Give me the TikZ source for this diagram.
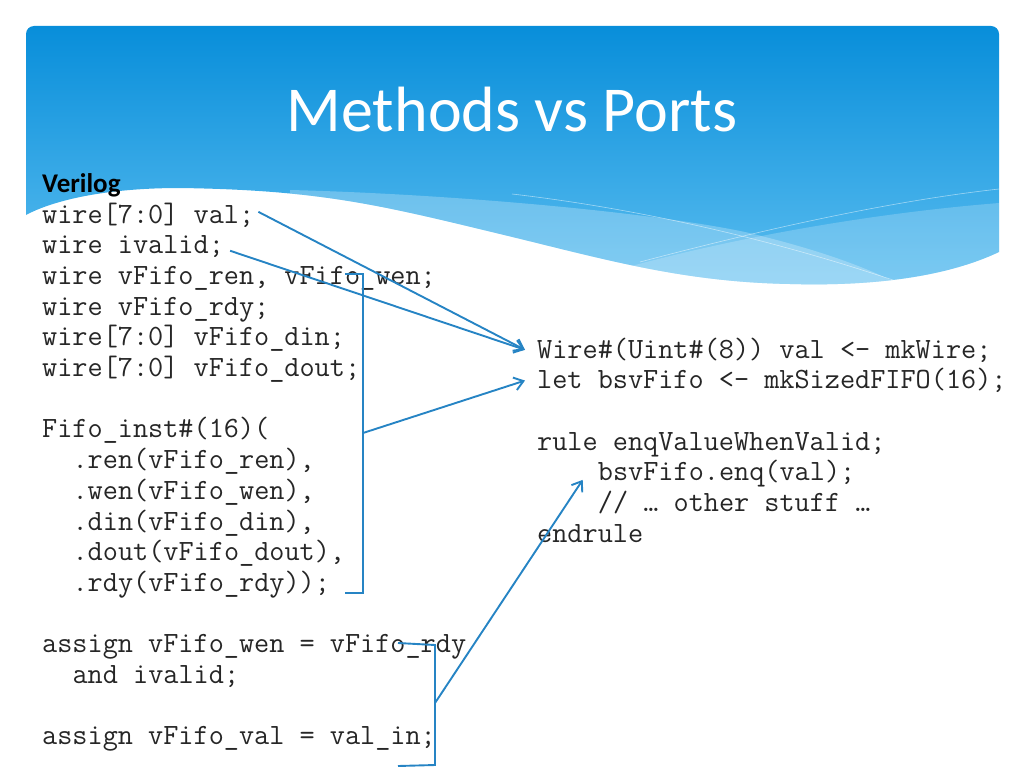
\documentclass[tikz,border=0pt]{standalone}
\usepackage{fontspec}
\setmainfont{Carlito}
\usetikzlibrary{positioning, arrows.meta}
\definecolor{headtop}{RGB}{8,142,218}
\definecolor{headbot}{RGB}{92,190,240}
\definecolor{linkblue}{RGB}{38,132,196}
\tikzset{
	>={Straight Barb[length=9pt,width=13pt]},
	code/.style={font=\fontsize{29.4}{30.7}\selectfont\ttfamily, text=black!85, anchor=base west, inner sep=0pt},
	link/.style={linkblue, line width=1.9pt},
	title/.style={font=\fontsize{64}{70}\selectfont, text=white, anchor=base},
	heading/.style={font=\fontsize{27}{30}\selectfont\bfseries, anchor=base west, inner sep=0pt}}

\begin{document}
\begin{tikzpicture}[x=1pt, y=1pt]
		\useasboundingbox (0,0) rectangle (1024,-768);
		
		% header band
		\begin{scope}
			\clip (26,-215) -- (26,-34) arc[start angle=180, end angle=90, radius=8] -- (991,-26)
			arc[start angle=90, end angle=0, radius=8] -- (999,-252)
			.. controls (940,-280) and (860,-286) .. (790,-284)
			.. controls (680,-282) and (600,-258) .. (500,-234)
			.. controls (380,-205) and (320,-190) .. (180,-188)
			.. controls (100,-188) and (50,-202) .. (26,-215) -- cycle;
			\shade[top color=headtop, bottom color=headbot] (26,-26) rectangle (999,-290);
			\fill[white, opacity=.25] (290,-190) .. controls (450,-194) and (650,-212) .. (745,-232)
			.. controls (820,-250) and (870,-268) .. (910,-290) -- (290,-300) -- cycle;
			\fill[white, opacity=.2] (600,-275) .. controls (700,-245) and (850,-215) .. (999,-203)
			-- (999,-300) -- (600,-300) -- cycle;
			\draw[white, opacity=.5, line width=.6pt] (512,-194) .. controls (650,-210) and (800,-245) .. (950,-300);
			\draw[white, opacity=.5, line width=.6pt] (640,-262) .. controls (780,-225) and (900,-200) .. (999,-189);
		\end{scope}
		
		\node[title] (title) at (512,-131) {Methods vs Ports};
		\node[heading] (verilog) at (42,-192) {Verilog};
		
		% verilog side
		\node[code] (v1) at (42,-223) {wire[7:0] val;};
		\node[code] (v2) at (42,-253.7) {wire ivalid;};
		\node[code] (v3) at (42,-284.4) {wire vFifo\_ren, vFifo\_wen;};
		\node[code] (v4) at (42,-315.1) {wire vFifo\_rdy;};
		\node[code] (v5) at (42,-345.8) {wire[7:0] vFifo\_din;};
		\node[code] (v6) at (42,-376.5) {wire[7:0] vFifo\_dout;};
		\node[code] (v8) at (42,-437.9) {Fifo\_inst\#(16)(};
		\node[code] (v9) at (72.4,-468.6) {.ren(vFifo\_ren),};
		\node[code] (v10) at (72.4,-499.3) {.wen(vFifo\_wen),};
		\node[code] (v11) at (72.4,-530) {.din(vFifo\_din),};
		\node[code] (v12) at (72.4,-560.7) {.dout(vFifo\_dout),};
		\node[code] (v13) at (72.4,-591.4) {.rdy(vFifo\_rdy));};
		\node[code] (v15) at (42,-652.8) {assign vFifo\_wen = vFifo\_rdy};
		\node[code] (v16) at (72.4,-683.5) {and ivalid;};
		\node[code] (v18) at (42,-744.9) {assign vFifo\_val = val\_in;};
		
		% bsv side
		\node[code] (b1) at (537,-358) {Wire\#(Uint\#(8)) val <- mkWire;};
		\node[code] (b2) at (537,-388.7) {let bsvFifo <- mkSizedFIFO(16);};
		\node[code] (b4) at (537,-450.1) {rule enqValueWhenValid;};
		\node[code] (b5) at (597.7,-480.8) {bsvFifo.enq(val);};
		\node[code] (b6) at (597.7,-511.5) {// … other stuff …};
		\node[code] (b7) at (537,-542.2) {endrule};
		
		% brackets
		\coordinate (fifoTop) at (345,-274);
		\coordinate (fifoBot) at (345,-593);
		\coordinate (fifoMid) at (363,-433);
		\coordinate (wenTop) at (398,-643);
		\coordinate (wenBot) at (398,-766);
		\coordinate (wenMid) at (435,-703);
		\draw[link] (fifoTop) -- (363,-274) -- (363,-593) -- (fifoBot);
		\draw[link] (wenTop) -- (435,-645) -- (435,-765) -- (wenBot);
		
		% links
		\draw[link, ->] ([xshift=4pt, yshift=3pt]v1.east) -- ([xshift=-12pt]b1.west);
		\draw[link, ->] ([xshift=6pt, yshift=-4pt]v2.east) -- ([xshift=-12pt]b1.west);
		\draw[link, ->] (fifoMid) -- ([xshift=-12pt]b2.west);
		\draw[link, ->] (wenMid) -- ([xshift=-15pt, yshift=-6pt]b5.west);
	\end{tikzpicture}
\end{document}
